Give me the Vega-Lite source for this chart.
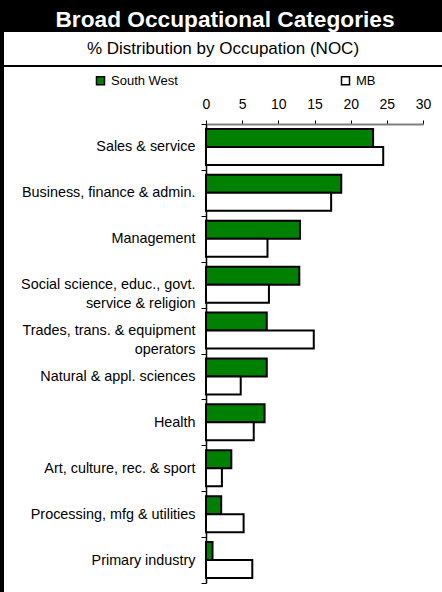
{
  "$schema": "https://vega.github.io/schema/vega-lite/v6.json",
  "background": "white",
  "padding": 0,
  "config": {"view": {"stroke": null}, "font": "Liberation Sans"},
  "spacing": 0,
  "hconcat": [
    {
      "width": 4, "height": 592,
      "data": {"values": [{}]},
      "view": {"fill": "black", "stroke": null},
      "mark": {"type": "text"},
      "encoding": {"text": {"value": ""}}
    },
    {
      "spacing": 0,
      "vconcat": [
        {
          "width": 438, "height": 32,
          "data": {"values": [{}]},
          "view": {"fill": "black", "stroke": null},
          "mark": {"type": "text", "color": "white", "fontSize": 22.7, "fontWeight": "bold", "font": "Liberation Sans", "dy": 4, "dx": 2},
          "encoding": {"text": {"value": "Broad Occupational Categories"}}
        },
        {
          "width": 438, "height": 28,
          "data": {"values": [{}]},
          "view": {"fill": "white", "stroke": null},
          "mark": {"type": "text", "color": "black", "fontSize": 17, "font": "Liberation Sans", "dy": 3},
          "encoding": {"text": {"value": "% Distribution by Occupation (NOC)"}}
        },
        {
          "width": 438, "height": 2,
          "data": {"values": [{}]},
          "view": {"fill": "black", "stroke": null},
          "mark": {"type": "text"},
          "encoding": {"text": {"value": ""}}
        },
        {
          "width": 438, "height": 459,
          "data": {"values": [
            {"cat": "Sales & service", "area": "South West", "pct": 23.1},
            {"cat": "Sales & service", "area": "MB", "pct": 24.5},
            {"cat": "Business, finance & admin.", "area": "South West", "pct": 18.7},
            {"cat": "Business, finance & admin.", "area": "MB", "pct": 17.3},
            {"cat": "Management", "area": "South West", "pct": 13.0},
            {"cat": "Management", "area": "MB", "pct": 8.5},
            {"cat": "Social science, educ., govt. service & religion", "area": "South West", "pct": 12.9},
            {"cat": "Social science, educ., govt. service & religion", "area": "MB", "pct": 8.7},
            {"cat": "Trades, trans. & equipment operators", "area": "South West", "pct": 8.4},
            {"cat": "Trades, trans. & equipment operators", "area": "MB", "pct": 14.9},
            {"cat": "Natural & appl. sciences", "area": "South West", "pct": 8.4},
            {"cat": "Natural & appl. sciences", "area": "MB", "pct": 4.8},
            {"cat": "Health", "area": "South West", "pct": 8.1},
            {"cat": "Health", "area": "MB", "pct": 6.6},
            {"cat": "Art, culture, rec. & sport", "area": "South West", "pct": 3.5},
            {"cat": "Art, culture, rec. & sport", "area": "MB", "pct": 2.2},
            {"cat": "Processing, mfg & utilities", "area": "South West", "pct": 2.1},
            {"cat": "Processing, mfg & utilities", "area": "MB", "pct": 5.2},
            {"cat": "Primary industry", "area": "South West", "pct": 0.9},
            {"cat": "Primary industry", "area": "MB", "pct": 6.4}
          ]},
          "mark": {"type": "bar", "stroke": "black", "strokeWidth": 2},
          "encoding": {
            "y": {
              "field": "cat", "type": "nominal", "sort": null,
              "scale": {"paddingInner": 0, "paddingOuter": 0},
              "axis": {
                "title": null, "orient": "left", "offset": -202, "tickBand": "extent",
                "tickSize": 5, "tickColor": "black", "tickWidth": 1,
                "domainColor": "black", "domainWidth": 1.5,
                "labelFontSize": 14.4, "labelColor": "black", "labelFont": "Liberation Sans",
                "labelPadding": 6, "labelLimit": 0, "labelLineHeight": 19,
                "labelExpr": "datum.value == 'Social science, educ., govt. service & religion' ? ['Social science, educ., govt.', 'service & religion\u00a0\u00a0\u00a0\u00a0\u00a0\u00a0\u00a0\u00a0'] : datum.value == 'Trades, trans. & equipment operators' ? ['Trades, trans. & equipment', 'operators\u00a0\u00a0\u00a0\u00a0\u00a0\u00a0\u00a0\u00a0\u00a0\u00a0\u00a0\u00a0\u00a0\u00a0'] : datum.value"
              }
            },
            "x": {
              "field": "pct", "type": "quantitative",
              "scale": {"domain": [0, 30], "nice": false, "range": [202, 419]},
              "axis": {
                "title": null, "orient": "top", "values": [0, 5, 10, 15, 20, 25, 30],
                "tickSize": 4, "tickColor": "black", "tickWidth": 1,
                "domainColor": "#808080", "domainWidth": 2,
                "labelFontSize": 14, "labelColor": "black", "labelFont": "Liberation Sans",
                "labelPadding": 9, "labelFlush": false, "grid": false,
                "minExtent": 53, "maxExtent": 53
              }
            },
            "yOffset": {
              "field": "area", "sort": ["South West", "MB"],
              "scale": {"paddingInner": 0, "paddingOuter": 0.275}
            },
            "fill": {
              "field": "area", "type": "nominal", "sort": ["South West", "MB"],
              "scale": {"domain": ["South West", "MB"], "range": ["#008000", "#ffffff"]},
              "legend": {
                "title": null, "orient": "none", "legendX": 94, "legendY": 74,
                "direction": "horizontal", "symbolType": "square", "symbolSize": 64,
                "symbolStrokeColor": "black", "symbolStrokeWidth": 1.5, "symbolOpacity": 1,
                "labelFontSize": 13, "labelFont": "Liberation Sans", "labelColor": "black",
                "columnPadding": 160, "labelOffset": 4, "padding": 0
              }
            }
          }
        }
      ]
    }
  ]
}
